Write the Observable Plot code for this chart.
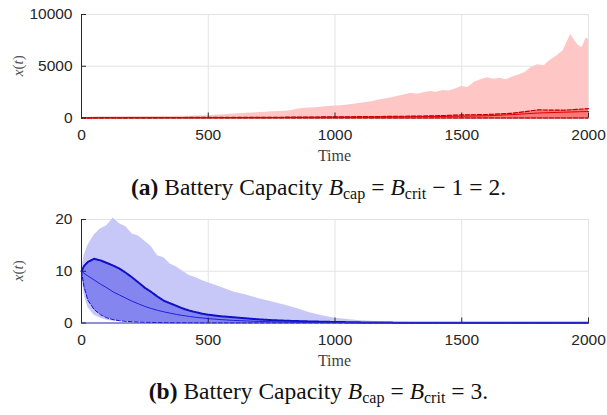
<!DOCTYPE html>
<html>
<head>
<meta charset="utf-8">
<script src="https://cdn.jsdelivr.net/npm/d3@7"></script>
<script src="https://cdn.jsdelivr.net/npm/@observablehq/plot@0.6"></script>
<style>
  body { margin: 0; background: #fff; }
  #wrap { position: relative; width: 607px; height: 415px; overflow: hidden; }
  .panel { position: absolute; left: 0; }
  .cap { position: absolute; left: 0; width: 607px; text-align: center;
         font-family: "Liberation Serif", "Times New Roman", serif; font-size: 23.5px; color: #111; line-height: 26px; white-space: nowrap; }
  .cap sub { font-size: 16px; vertical-align: -4px; line-height: 0; }
  .cap .op { margin: 0 6px; }
</style>
</head>
<body>
<div id="wrap">
  <div id="pa" class="panel" style="top:0px"></div>
  <div class="cap" style="top:174px; left:15px"><b>(a)</b> Battery Capacity <i>B</i><sub>cap</sub><span class="op">=</span><i>B</i><sub>crit</sub><span class="op">−</span>1<span class="op">=</span>2.</div>
  <div id="pb" class="panel" style="top:205px"></div>
  <div class="cap" style="top:378px; left:15px"><b>(b)</b> Battery Capacity <i>B</i><sub>cap</sub><span class="op">=</span><i>B</i><sub>crit</sub><span class="op">=</span>3.</div>
</div>
<script>
// ---------- Panel (a): B_cap = 2 (red) ----------
const redEnvT = [0,25,50,75,100,125,150,175,200,225,250,275,300,325,350,375,400,425,450,475,500,525,550,575,600,625,650,675,700,725,750,775,800,825,850,875,900,925,950,975,1000,1025,1050,1075,1100,1125,1150,1175,1200,1225,1250,1275,1300,1325,1350,1375,1400,1425,1450,1475,1500,1525,1550,1575,1600,1625,1650,1675,1700,1725,1750,1775,1800,1825,1850,1875,1900,1915,1930,1945,1960,1975,1990,2000];
const redMax = [10,60,90,110,120,115,130,125,140,130,145,150,140,160,155,170,165,180,190,200,220,260,290,330,380,410,450,480,530,560,600,630,660,700,850,920,960,1000,1060,1100,1150,1180,1260,1320,1420,1500,1600,1750,1850,1950,2100,2250,2400,2300,2450,2550,2500,2650,2600,2800,3050,2950,3450,3700,3900,3750,3850,3700,3950,4150,4400,4900,5150,5050,5600,6000,6500,7300,8100,7500,7000,6800,7700,7600];
const redT = [0,100,200,300,400,500,600,700,800,900,1000,1100,1200,1300,1400,1500,1600,1700,1800,1900,2000];
const redHigh = [10,30,40,45,50,55,60,65,75,90,110,130,150,175,210,300,330,460,780,750,900];
const redMed = [10,20,25,28,30,33,36,40,45,55,65,80,95,115,140,180,210,330,480,560,630];
const redLow = [10,5,4,3,3,3,3,3,3,3,3,3,3,3,3,3,3,3,3,3,3];
const redTicksY = [0,5000,10000];

// ---------- Panel (b): B_cap = 3 (blue) ----------
const blueT = [0,10,25,50,75,100,125,150,175,200,225,250,275,300,325,350,375,400,425,450,475,500,550,600,650,700,750,800,850,900,950,1000,1100,1200,1300,1400,1500,1600,1700,1800,1900,2000];
const blueMax = [10,13,15,17,18.2,18.8,20.3,19.2,18.6,17.2,16.8,15.8,14.8,13.0,12.6,11.4,10.8,10.0,9.2,8.8,8.2,7.8,6.9,6.0,5.4,4.7,4.1,3.5,2.8,2.0,1.4,0.9,0.45,0.2,0.12,0.07,0.05,0.04,0.03,0.03,0.02,0.02];
const blueMin = [10,5.5,3.0,1.5,0.9,0.55,0.35,0.25,0.18,0.13,0.1,0.08,0.06,0.05,0.04,0.04,0.03,0.03,0.02,0.02,0.02,0.02,0.01,0.01,0.01,0.01,0.01,0.01,0.01,0.01,0.01,0.01,0,0,0,0,0,0,0,0,0,0];
const blueHigh = [10,11,11.8,12.4,12.1,11.6,11.1,10.5,9.7,8.8,7.8,6.8,6.0,5.1,4.3,3.8,3.3,2.8,2.4,2.1,1.8,1.6,1.3,1.1,0.9,0.7,0.55,0.45,0.37,0.3,0.25,0.2,0.12,0.08,0.05,0.04,0.03,0.03,0.03,0.03,0.03,0.03];
const blueMed = [10,9.6,9.1,8.3,7.5,6.8,6.0,5.4,4.8,4.2,3.7,3.2,2.8,2.45,2.15,1.9,1.65,1.45,1.28,1.1,0.98,0.85,0.65,0.5,0.4,0.3,0.24,0.18,0.14,0.11,0.09,0.07,0.04,0.03,0.02,0.02,0.02,0.02,0.02,0.02,0.02,0.02];
const blueLow = [10,7,4.4,2.6,1.6,1.0,0.65,0.45,0.32,0.24,0.18,0.14,0.11,0.09,0.07,0.06,0.05,0.05,0.04,0.04,0.03,0.03,0.03,0.02,0.02,0.02,0.02,0.02,0.01,0.01,0.01,0.01,0.01,0.01,0.01,0.01,0.01,0.01,0.01,0.01,0.01,0.01];
const blueTicksY = [0,10,20];

const timeTicks = [0,500,1000,1500,2000];

function panel({env, band, lineHigh, lineLow, yMax, yTicks, c}) {
  const tickLenX = 2000 * 5 / 507;
  const tickLenY = yMax * 5 / 103.5;
  const fmt = d => String(d);
  const p = Plot.plot({
    width: 607, height: 165,
    marginLeft: 81, marginRight: 19, marginTop: 14, marginBottom: 47.5,
    style: {fontFamily: "'Liberation Sans', Arial, Helvetica, sans-serif", fontSize: "15.5px", color: "#262626", background: "white"},
    x: {domain: [0, 2000], ticks: timeTicks, label: null},
    y: {domain: [0, yMax], ticks: yTicks, label: null},
    marks: [
      Plot.gridX(timeTicks, {stroke: "#e3e3e3", strokeOpacity: 1}),
      Plot.gridY(yTicks, {stroke: "#e3e3e3", strokeOpacity: 1}),
      Plot.areaY(env, {x: "t", y1: "lo", y2: "hi", fill: c.light, curve: "linear"}),
      Plot.areaY(band, {x: "t", y1: "lo", y2: "hi", fill: c.dark, curve: "linear"}),
      Plot.line(band, {x: "t", y: "hi", stroke: c.lineDark, strokeWidth: lineHigh.w, strokeDasharray: lineHigh.dash}),
      Plot.line(band, {x: "t", y: "lo", stroke: c.lineDark, strokeWidth: 1, strokeDasharray: lineLow.dash}),
      Plot.line(band, {x: "t", y: "med", stroke: c.line, strokeWidth: 1}),
      Plot.ruleX([0], {stroke: "#262626", strokeWidth: 1}),
      Plot.ruleY([0], {stroke: c.base, strokeWidth: 1.2}),
      Plot.ruleX(timeTicks, {y1: 0, y2: tickLenY, stroke: "#262626"}),
      Plot.ruleY(yTicks, {x1: 0, x2: tickLenX, stroke: "#262626"}),
      Plot.axisX(timeTicks, {tickSize: 0, tickPadding: 11, fontSize: 15.5, tickFormat: fmt}),
      Plot.axisY(yTicks, {tickSize: 0, tickPadding: 9, fontSize: 15.5, tickFormat: fmt})
    ]
  });
  const svg = d3.select(p);
  svg.append("text")
    .attr("x", 81 + 507 / 2).attr("y", 161)
    .attr("text-anchor", "middle")
    .attr("font-family", "'Liberation Serif', 'Times New Roman', serif")
    .attr("font-size", 16).attr("fill", "#404040")
    .text("Time");
  const yl = svg.append("text")
    .attr("transform", `translate(23, ${14 + 103.5 / 2}) rotate(-90)`)
    .attr("text-anchor", "middle")
    .attr("font-family", "'Liberation Serif', 'Times New Roman', serif")
    .attr("font-size", 15).attr("fill", "#505050");
  yl.append("tspan").attr("font-style", "italic").text("x");
  yl.append("tspan").text("(");
  yl.append("tspan").attr("font-style", "italic").text("t");
  yl.append("tspan").text(")");
  return p;
}

// panel (a)
const redEnv = redEnvT.map((t, i) => ({t, lo: 0, hi: redMax[i]}));
const redBand = redT.map((t, i) => ({t, lo: redLow[i], hi: redHigh[i], med: redMed[i]}));
document.getElementById("pa").appendChild(panel({
  env: redEnv, band: redBand, yMax: 10000, yTicks: redTicksY,
  lineHigh: {w: 1.2, dash: "4,2"}, lineLow: {dash: "4,2"},
  c: {light: "#ffc6c6", dark: "#ff7878", lineDark: "#c00000", line: "#e00000", base: "#b01010"}
}));

// panel (b)
const blueEnv = blueT.map((t, i) => ({t, lo: blueMin[i], hi: blueMax[i]}));
const blueBand = blueT.map((t, i) => ({t, lo: blueLow[i], hi: blueHigh[i], med: blueMed[i]}));
document.getElementById("pb").appendChild(panel({
  env: blueEnv, band: blueBand, yMax: 20, yTicks: blueTicksY,
  lineHigh: {w: 2, dash: "1.2,0.8"}, lineLow: {dash: "4,2"},
  c: {light: "#c8c8f8", dark: "#8585ef", lineDark: "#1010c8", line: "#2020e0", base: "#3030c0"}
}));
</script>
</body>
</html>
